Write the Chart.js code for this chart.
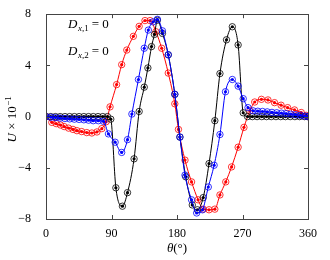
<!DOCTYPE html>
<html>
<head>
<meta charset="utf-8">
<script src="https://cdn.jsdelivr.net/npm/chart.js"></script>
<style>
  html, body { margin: 0; padding: 0; background: #fff; }
  #wrap { width: 330px; height: 260px; }
</style>
</head>
<body>
<div id="wrap"><canvas id="chart"></canvas></div>
<script>
// values (theta in degrees, U x 10^-1)
const blackTheta = [0, 6.5, 13, 19.5, 26, 32.5, 39, 45.5, 52, 58.5, 65, 71.5, 78, 84.5,
  89, 96, 105, 112, 121, 128, 135, 140, 145, 149, 153, 160, 168, 177, 184, 192, 201, 208, 216, 224, 232, 239, 248, 256, 264, 271,
  277, 283.5, 290, 296.5, 303, 309.5, 316, 322.5, 329, 335.5, 342, 348.5, 355, 360];
const blackU = [0, 0, 0, 0, 0, 0, 0, 0, 0, 0, 0, 0, 0, 0,
  -0.2, -5.56, -7.0, -5.94, -3.3, 0.4, 2.3, 3.8, 5.47, 6.42, 7.53, 6.5, 4.83, 1.74, -1.6, -4.7, -6.9, -7.28, -6.33, -3.67, -0.32, 3.36, 6.0, 7.02, 5.6, 0.3,
  0, 0, 0, 0, 0, 0, 0, 0, 0, 0, 0, 0, 0, 0];

const blueTheta = [0, 6.5, 13, 19.5, 26, 32.5, 39, 45.5, 52, 58.5, 65,
  72, 79, 85.8, 95, 104, 112, 118, 127, 135, 140.6, 147, 153, 160, 168, 177, 184, 191, 200, 207, 215, 223, 231, 239, 246.6, 256, 264, 271, 277.6, 284.5,
  291, 297.5, 304, 310.5, 317, 323.5, 330, 336.5, 343, 349.5, 356, 360];
const blueU = [0, -0.05, -0.08, -0.12, -0.15, -0.18, -0.2, -0.22, -0.25, -0.28, -0.32,
  -0.32, -0.37, -1.35, -2.0, -2.8, -1.8, 0.2, 2.9, 5.34, 6.76, 7.4, 7.6, 6.7, 4.83, 1.74, -1.6, -4.57, -6.5, -7.53, -7.28, -5.5, -3.8, -1.4, 1.94, 2.9, 2.38, 1.4, 0.7, 0.45,
  0.42, 0.4, 0.37, 0.33, 0.3, 0.27, 0.23, 0.19, 0.15, 0.1, 0.04, 0];

const redTheta = [0, 8, 14, 20, 25, 31, 37, 42.5, 49, 56, 63, 70, 76.7, 82.6, 88,
  97, 104, 111, 120, 128, 136, 143, 151, 159, 168, 177, 182, 191, 200, 209, 216, 224, 232, 239, 247, 255, 264, 272,
  280, 286.8, 296, 305, 314, 323, 332, 341.5, 350.7, 357.5, 360];
const redU = [0, -0.45, -0.55, -0.66, -0.78, -0.9, -1.0, -1.1, -1.17, -1.25, -1.28, -1.2, -0.94, -0.4, 0.76,
  2.5, 4.06, 5.2, 6.27, 7.05, 7.5, 7.5, 6.63, 5.34, 3.4, 1.0, -1.0, -3.4, -5.1, -6.5, -7.23, -7.28, -7.23, -6.12, -5.1, -3.93, -2.39, -0.84,
  0.45, 1.14, 1.35, 1.3, 1.09, 0.89, 0.7, 0.52, 0.32, 0.1, 0];

const xTicks = [0, 90, 180, 270, 360];
const yTicks = [-8, -4, 0, 4, 8];

const SERIF = '"Liberation Serif", "DejaVu Serif", serif';

function pts(xs, ys) {
  return xs.map((x, i) => ({ x: x, y: ys[i] }));
}

function lineSet(xs, ys, color) {
  return {
    data: pts(xs, ys),
    borderColor: color,
    borderWidth: 1,
    pointRadius: 1.6,
    pointBackgroundColor: color,
    pointBorderWidth: 0,
    cubicInterpolationMode: 'monotone'
  };
}

function circleSet(xs, ys, color) {
  return {
    data: pts(xs, ys),
    showLine: false,
    pointRadius: 3.2,
    pointBorderWidth: 0.8,
    pointBorderColor: color,
    pointBackgroundColor: 'rgba(0,0,0,0)'
  };
}

// frame, inward ticks and the text pieces with mixed italic/upright
const decorations = {
  id: 'decorations',
  afterDraw(chart) {
    const ctx = chart.ctx;
    const a = chart.chartArea;
    const xs = chart.scales.x, ys = chart.scales.y;
    ctx.save();
    ctx.strokeStyle = '#444';
    ctx.lineWidth = 1;
    ctx.strokeRect(Math.round(a.left) + 0.5, Math.round(a.top) + 0.5,
      Math.round(a.right - a.left), Math.round(a.bottom - a.top));
    const len = 4;
    ctx.beginPath();
    xTicks.forEach(v => {
      const px = Math.round(xs.getPixelForValue(v)) + 0.5;
      ctx.moveTo(px, a.bottom); ctx.lineTo(px, a.bottom - len);
      ctx.moveTo(px, a.top); ctx.lineTo(px, a.top + len);
    });
    yTicks.forEach(v => {
      const py = Math.round(ys.getPixelForValue(v)) + 0.5;
      ctx.moveTo(a.left, py); ctx.lineTo(a.left + len, py);
      ctx.moveTo(a.right, py); ctx.lineTo(a.right - len, py);
    });
    ctx.stroke();

    ctx.fillStyle = '#000';
    ctx.textBaseline = 'alphabetic';
    ctx.textAlign = 'left';

    // D_{x,1} = 0 and D_{x,2} = 0
    [['1', 28], ['2', 55]].forEach(([k, base]) => {
      let x = a.left + 22;
      ctx.font = 'italic 13px ' + SERIF;
      ctx.fillText('D', x, base);
      x += ctx.measureText('D').width + 0.5;
      ctx.font = 'italic 9px ' + SERIF;
      ctx.fillText('x', x, base + 3);
      x += ctx.measureText('x').width;
      ctx.font = '9px ' + SERIF;
      ctx.fillText(',' + k, x, base + 3);
      x += ctx.measureText(',' + k).width + 3;
      ctx.font = '13px ' + SERIF;
      ctx.fillText('= 0', x, base);
    });

    // x title: theta(deg)
    ctx.font = 'italic 13px ' + SERIF;
    const w1 = ctx.measureText('θ').width;
    ctx.font = '13px ' + SERIF;
    const w2 = ctx.measureText('(°)').width;
    let tx = (a.left + a.right) / 2 - (w1 + w2) / 2;
    ctx.font = 'italic 13px ' + SERIF;
    ctx.fillText('θ', tx, 252);
    ctx.font = '13px ' + SERIF;
    ctx.fillText('(°)', tx + w1, 252);

    // y title: U x 10^-1, rotated
    ctx.translate(16, (a.top + a.bottom) / 2 + 3);
    ctx.rotate(-Math.PI / 2);
    ctx.font = 'italic 13px ' + SERIF;
    const u1 = ctx.measureText('U').width;
    ctx.font = '13px ' + SERIF;
    const u2 = ctx.measureText(' × 10').width;
    ctx.font = '9px ' + SERIF;
    const u3 = ctx.measureText('−1').width;
    let yx = -(u1 + u2 + u3) / 2;
    ctx.font = 'italic 13px ' + SERIF;
    ctx.fillText('U', yx, 0);
    ctx.font = '13px ' + SERIF;
    ctx.fillText(' × 10', yx + u1, 0);
    ctx.font = '9px ' + SERIF;
    ctx.fillText('−1', yx + u1 + u2 + 0.5, -5);
    ctx.restore();
  }
};

new Chart(document.getElementById('chart'), {
  type: 'line',
  data: {
    datasets: [
      lineSet(blueTheta, blueU, '#0000ff'),
      circleSet(blueTheta, blueU, '#0000ff'),
      lineSet(blackTheta, blackU, '#000000'),
      circleSet(blackTheta, blackU, '#000000'),
      lineSet(redTheta, redU, '#ff0000'),
      circleSet(redTheta, redU, '#ff0000')
    ]
  },
  options: {
    responsive: true,
    maintainAspectRatio: false,
    animation: false,
    layout: { padding: { top: 12, right: 22, left: 0, bottom: 0 } },
    scales: {
      x: {
        type: 'linear',
        min: 0,
        max: 360,
        afterBuildTicks: s => { s.ticks = xTicks.map(v => ({ value: v })); },
        afterFit: s => { s.height = 41; },
        grid: { display: false },
        border: { display: false },
        ticks: { color: '#000', padding: 0, maxRotation: 0, font: { family: SERIF, size: 12 } }
      },
      y: {
        min: -8,
        max: 8,
        afterBuildTicks: s => { s.ticks = yTicks.map(v => ({ value: v })); },
        afterFit: s => { s.width = 46; },
        grid: { display: false },
        border: { display: false },
        ticks: {
          color: '#000',
          padding: 7,
          font: { family: SERIF, size: 12 },
          callback: v => (v < 0 ? '\u2212' + Math.abs(v) : String(v))
        }
      }
    },
    plugins: {
      legend: { display: false },
      tooltip: { enabled: false }
    }
  },
  plugins: [decorations]
});
</script>
</body>
</html>
